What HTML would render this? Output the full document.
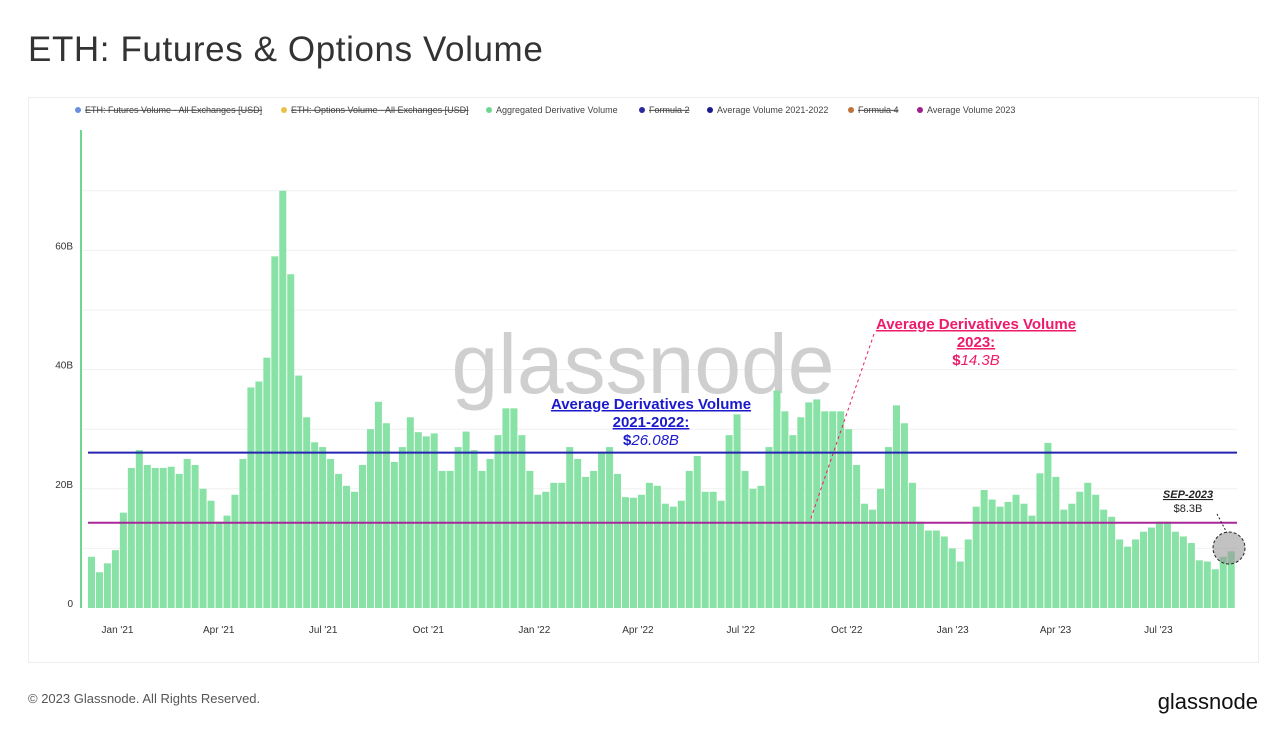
<!DOCTYPE html>
<html><head><meta charset="utf-8"><style>
body{margin:0;background:#fff;font-family:"Liberation Sans",sans-serif;}
#wrap{position:relative;width:1274px;height:736px;overflow:hidden;}
</style></head><body>
<div id="wrap">
<svg id="svg" width="1274" height="736" xmlns="http://www.w3.org/2000/svg" font-family="Liberation Sans, sans-serif">
<text x="28" y="61" font-size="35" letter-spacing="0.6" fill="#333">ETH: Futures &amp; Options Volume</text>
<rect x="28.5" y="97.5" width="1230" height="565" fill="#fff" stroke="#eee"/>
<g id="legend" font-size="9" fill="#444">
<g><circle cx="78" cy="110" r="3" fill="#6b8fe0"/><text x="85" y="113" text-decoration="line-through">ETH: Futures Volume - All Exchanges [USD]</text></g>
<g><circle cx="284" cy="110" r="3" fill="#e8c04a"/><text x="291" y="113" text-decoration="line-through">ETH: Options Volume - All Exchanges [USD]</text></g>
<g><circle cx="489" cy="110" r="3" fill="#6fd68f"/><text x="496" y="113">Aggregated Derivative Volume</text></g>
<g><circle cx="642" cy="110" r="3" fill="#2a2a9a"/><text x="649" y="113" text-decoration="line-through">Formula 2</text></g>
<g><circle cx="710" cy="110" r="3" fill="#1a1a8c"/><text x="717" y="113">Average Volume 2021-2022</text></g>
<g><circle cx="851" cy="110" r="3" fill="#c0703a"/><text x="858" y="113" text-decoration="line-through">Formula 4</text></g>
<g><circle cx="920" cy="110" r="3" fill="#a0208c"/><text x="927" y="113">Average Volume 2023</text></g>
</g>
<g id="grid"></g>
<text x="643" y="393" font-size="84" fill="#cfcfcf" text-anchor="middle">glassnode</text>
<g id="bars"></g>
<g id="lines"></g>
<line x1="81" y1="130" x2="81" y2="608" stroke="#6fd68f" stroke-width="2"/>
<g id="ylab" font-size="10" fill="#333" text-anchor="end"></g>
<g id="xlab" font-size="10" fill="#333" text-anchor="middle"></g>
<g font-weight="bold" font-size="15" fill="#1a1acc" text-anchor="middle">
<text x="651" y="409" text-decoration="underline">Average Derivatives Volume</text>
<text x="651" y="427" text-decoration="underline">2021-2022:</text>
<text x="651" y="445">$<tspan font-weight="normal" font-style="italic">26.08B</tspan></text>
</g>
<g font-weight="bold" font-size="15" fill="#ee1a6a" text-anchor="middle">
<text x="976" y="329" text-decoration="underline">Average Derivatives Volume</text>
<text x="976" y="347" text-decoration="underline">2023:</text>
<text x="976" y="365">$<tspan font-weight="normal" font-style="italic">14.3B</tspan></text>
</g>
<line x1="874" y1="334" x2="810" y2="521" stroke="#ee1a6a" stroke-dasharray="3,3"/>
<g font-size="11" fill="#222" text-anchor="middle">
<text x="1188" y="498" font-weight="bold" font-style="italic" text-decoration="underline">SEP-2023</text>
<text x="1188" y="512">$8.3B</text>
</g>
<line x1="1217" y1="514" x2="1227" y2="533" stroke="#222" stroke-dasharray="2,2"/>
<circle cx="1229" cy="548" r="16" fill="#999" fill-opacity="0.6" stroke="#222" stroke-dasharray="3,2"/>
<text x="28" y="703" font-size="13" fill="#555">© 2023 Glassnode. All Rights Reserved.</text>
<text x="1258" y="709" font-size="22" fill="#111" text-anchor="end">glassnode</text>
</svg>
</div>
<script>
const weeklyVolume=[8.6,6,7.5,9.7,16,23.5,26.5,24,23.5,23.5,23.7,22.5,25,24,20,18,14.5,15.5,19,25,37,38,42,59,70,56,39,32,27.8,27,25,22.5,20.5,19.5,24,30,34.6,31,24.5,27,32,29.5,28.8,29.3,23,23,27,29.6,26.5,23,25,29,33.5,33.5,29,23,19,19.5,21,21,27,25,22,23,26,27,22.5,18.6,18.5,19,21,20.5,17.5,17,18,23,25.5,19.5,19.5,18,29,32.5,23,20,20.5,27,36.5,33,29,32,34.5,35,33,33,33,30,24,17.5,16.5,20,27,34,31,21,14.5,13,13,12,10,7.8,11.5,17,19.8,18.2,17,17.8,19,17.5,15.5,22.6,27.7,22,16.5,17.5,19.5,21,19,16.5,15.3,11.5,10.3,11.5,12.8,13.5,14.5,14.5,12.8,12,10.9,8,7.8,6.5,8.6,9.5];
const yTicks=[0,20,40,60];
const yTickLabels=["0","20B","40B","60B"];
const gridValues=[10,20,30,40,50,60,70];
const xTickLabels=["Jan '21","Apr '21","Jul '21","Oct '21","Jan '22","Apr '22","Jul '22","Oct '22","Jan '23","Apr '23","Jul '23"];
const xTickWeeks=[3.7,16.4,29.5,42.7,56,69,81.9,95.2,108.5,121.4,134.3];
const avg2122=[26.08];
const avg2023=[14.3];
const NS="http://www.w3.org/2000/svg";
const y=v=>608-v*5.96;
const x=i=>88+i*7.97;
const mk=(t,a,p)=>{const e=document.createElementNS(NS,t);for(const k in a)e.setAttribute(k,a[k]);p.appendChild(e);return e;};
const grid=document.getElementById('grid');
gridValues.forEach(v=>{const l=mk('line',{x1:82,x2:1237,y1:y(v),y2:y(v),stroke:'#f0f0f0'},grid);

});
const bars=document.getElementById('bars');
weeklyVolume.forEach((v,i)=>{const r=mk('rect',{x:x(i),y:y(v),width:7,height:608-y(v),fill:'#88e2a6'},bars);

});
const lines=document.getElementById('lines');
const l1=mk('line',{x1:88,x2:1237,y1:y(avg2122[0]),y2:y(avg2122[0]),stroke:'#2424b0','stroke-width':2},lines);


const l2=mk('line',{x1:88,x2:1237,y1:y(avg2023[0]),y2:y(avg2023[0]),stroke:'#a8289a','stroke-width':2},lines);


const yl=document.getElementById('ylab');
yTicks.forEach((v,i)=>{const t=mk('text',{x:73,y:y(v)-1},yl);t.textContent=yTickLabels[i];

});
const xl=document.getElementById('xlab');
xTickLabels.forEach((s,i)=>{const t=mk('text',{x:x(xTickWeeks[i]),y:633},xl);t.textContent=s;

});
</script>
</body></html>
